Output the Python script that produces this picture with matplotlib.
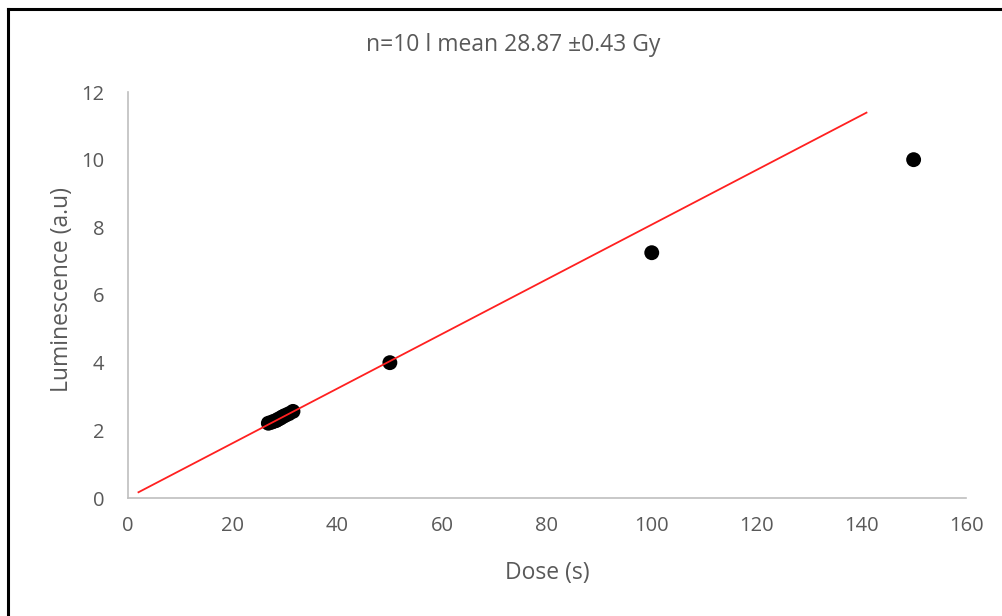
import matplotlib
matplotlib.use("Agg")
import matplotlib.pyplot as plt
from matplotlib.lines import Line2D

# measured points: dose (s) vs luminescence (a.u.)
dose = [26.8, 27.4, 27.9, 28.3, 28.7, 29.1, 29.5, 30.0, 30.7, 31.5, 50, 100, 150]
lum = [2.21, 2.24, 2.27, 2.29, 2.33, 2.36, 2.40, 2.44, 2.49, 2.56, 4.0, 7.25, 10.0]

# fitted line end points
fit_x = [2.0, 141.0]
fit_y = [0.17, 11.39]

title = "n=10 l mean 28.87 \u00b10.43 Gy"
xticks = [0, 20, 40, 60, 80, 100, 120, 140, 160]
yticks = [0, 2, 4, 6, 8, 10, 12]

GREY = "#595959"
plt.rcParams["font.family"] = ["Open Sans", "DejaVu Sans"]

fig = plt.figure(figsize=(10.03, 6.16), dpi=100)
ax = fig.add_axes([128 / 1003, 1 - 498 / 616, (966 - 128) / 1003, (498 - 92) / 616])

ax.plot(fit_x, fit_y, color="#ff2020", lw=1.3, zorder=3)
ax.scatter(dose, lum, s=115, color="black", edgecolors="none", zorder=2)

ax.set_xlim(0, 160)
ax.set_ylim(0, 12)
ax.set_xticks(xticks)
ax.set_yticks(yticks)
ax.tick_params(length=0, labelsize=14.5, labelcolor=GREY)
ax.tick_params(axis="x", pad=13)
ax.tick_params(axis="y", pad=17)
for s in ("top", "right"):
    ax.spines[s].set_visible(False)
for s in ("left", "bottom"):
    ax.spines[s].set_color("#bfbfbf")
    ax.spines[s].set_linewidth(1.2)

fig.text(547 / 1003, 1 - 573 / 616, "Dose (s)", ha="center", va="center", fontsize=16.5, color=GREY)
fig.text(62 / 1003, 1 - 290 / 616, "Luminescence (a.u)", ha="center", va="center",
         rotation=90, fontsize=16.5, color=GREY)
fig.text(513 / 1003, 1 - 45 / 616, title, ha="center", va="center", fontsize=16.5, color=GREY)

# outer frame (cropped chart border on top and left)
fig.add_artist(Line2D([8.5 / 1003, 8.5 / 1003], [0, 1 - 8.5 / 616], color="black", lw=2.2, transform=fig.transFigure))
fig.add_artist(Line2D([8.5 / 1003, 1], [1 - 8.5 / 616, 1 - 8.5 / 616], color="black", lw=2.2, transform=fig.transFigure))

fig.savefig("out.png", dpi=100)
